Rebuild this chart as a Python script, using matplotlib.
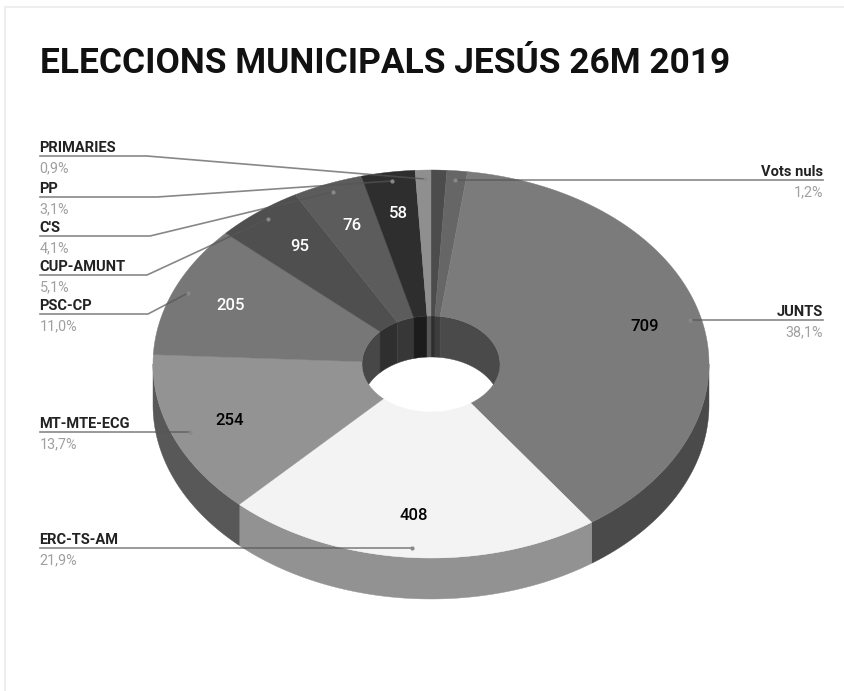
import numpy as np
import matplotlib
matplotlib.use('Agg')
import matplotlib.pyplot as plt
from matplotlib.colors import to_rgb

TITLE = 'ELECCIONS MUNICIPALS JESÚS 26M 2019'

# clockwise from 12 o'clock
values = [17, 22, 709, 408, 254, 205, 95, 76, 58, 17]
slice_colors = ['#4c4c4c', '#666666', '#7b7b7b', '#f3f3f3', '#939393',
                '#777777', '#4f4f4f', '#5c5c5c', '#2e2e2e', '#8f8f8f']
value_text_colors = [None, None, 'black', 'black', 'black',
                     'white', 'white', 'white', 'white', None]

left_names = ['PRIMARIES', 'PP', "C'S", 'CUP-AMUNT', 'PSC-CP', 'MT-MTE-ECG', 'ERC-TS-AM']
left_pcts = ['0,9%', '3,1%', '4,1%', '5,1%', '11,0%', '13,7%', '21,9%']
right_names = ['Vots nuls', 'JUNTS']
right_pcts = ['1,2%', '38,1%']

# geometry in pixels
cx, cy, rx, ry = 431, 364, 278, 194
hole_rx, hole_ry = 69, 48
depth = 41

fig = plt.figure(figsize=(8.45, 6.91), dpi=100)
ax = fig.add_axes([0, 0, 1, 1])
ax.set_xlim(0, 845)
ax.set_ylim(691, 0)
ax.axis('off')


def arc(a1, a2, rad_x, rad_y, dy=0):
    t = np.radians(np.linspace(a1, a2, max(int(abs(a2 - a1)) * 2, 2)))
    return cx + rad_x * np.sin(t), cy + dy - rad_y * np.cos(t)


def wall(a1, a2, rad_x, rad_y, color):
    x, y = arc(a1, a2, rad_x, rad_y)
    x2, y2 = arc(a2, a1, rad_x, rad_y, depth)
    ax.fill(np.r_[x, x2], np.r_[y, y2], color=color, lw=0.3, zorder=2)


edges = np.r_[0, np.cumsum(values)] / sum(values) * 360

for i in range(len(values)):
    a1, a2 = edges[i], edges[i + 1]
    side = tuple(c * 0.6 for c in to_rgb(slice_colors[i]))
    # outer wall is seen on the front half, inner wall on the back half
    if max(a1, 90) < min(a2, 270):
        wall(max(a1, 90), min(a2, 270), rx, ry, side)
    if a1 < 90:
        wall(a1, min(a2, 90), hole_rx, hole_ry, side)
    if a2 > 270:
        wall(max(a1, 270), a2, hole_rx, hole_ry, side)

for i in range(len(values)):
    a1, a2 = edges[i], edges[i + 1]
    x, y = arc(a1, a2, rx, ry)
    x2, y2 = arc(a2, a1, hole_rx, hole_ry)
    ax.fill(np.r_[x, x2], np.r_[y, y2], color=slice_colors[i], lw=0.3, zorder=3)

# numbers on the slices
value_pos = [None, None, (645, 326), (414, 515), (230, 420),
             (231, 305), (300, 246), (352, 225), (398, 213), None]
for v, c, p in zip(values, value_text_colors, value_pos):
    if p is not None:
        ax.text(p[0], p[1], str(v), color=c, fontsize=12, family='Roboto',
                fontweight='medium', ha='center', va='center', zorder=6)

# leader lines: start of line, elbow, end dot
left_y = [156, 197, 236, 275, 314, 432, 548]
left_elbow = [147, 157, 150, 147, 148, 190, 412]
left_dot = [(425, 179), (392, 181), (333, 192), (268, 219), (188, 293), (190, 432), (412, 548)]
for name, pct, ly, ex, d in zip(left_names, left_pcts, left_y, left_elbow, left_dot):
    ax.plot([40, ex, d[0]], [ly, ly, d[1]], color='#555555', alpha=0.7, lw=1.2, zorder=5)
    ax.plot(d[0], d[1], 'o', color='#888888', ms=2, zorder=5)
    ax.text(39.5, ly - 1, name, fontsize=10.5, family='Roboto', fontweight='bold',
            color='#222222', ha='left', va='bottom', zorder=6)
    ax.text(39.5, ly + 5, pct, fontsize=10.4, family='Roboto', color='#a0a0a0',
            ha='left', va='top', zorder=6)

right_y = [180, 320]
right_dot = [(455, 180), (690, 320)]
for name, pct, ly, d in zip(right_names, right_pcts, right_y, right_dot):
    ax.plot([823, d[0]], [ly, d[1]], color='#555555', alpha=0.7, lw=1.2, zorder=5)
    ax.plot(d[0], d[1], 'o', color='#888888', ms=2, zorder=5)
    ax.text(823, ly - 1, name, fontsize=10.5, family='Roboto', fontweight='bold',
            color='#222222', ha='right', va='bottom', zorder=6)
    ax.text(823, ly + 5, pct, fontsize=10.4, family='Roboto', color='#a0a0a0',
            ha='right', va='top', zorder=6)

ax.text(40, 63, TITLE, fontsize=25.4, family='Roboto', fontweight='bold',
        color='#111111', ha='left', va='center', zorder=6)

# thin frame of the original card
ax.plot([5, 5, 845], [691, 7, 7], color='#eeeeee', lw=1.5, zorder=1)

fig.savefig('out.png', dpi=100)
